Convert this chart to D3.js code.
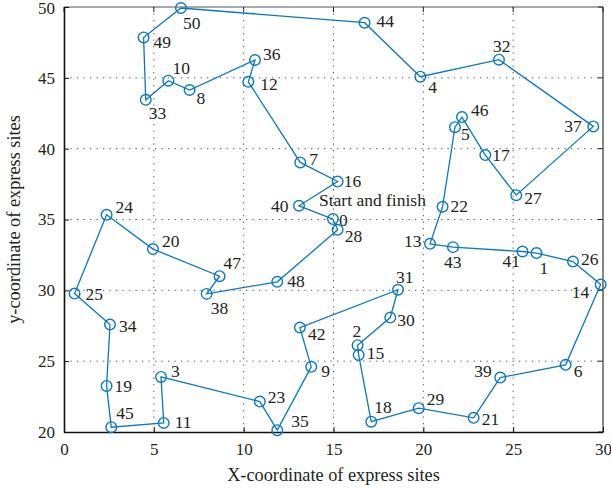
<!DOCTYPE html>
<html>
<head>
<meta charset="utf-8">
<script src="https://cdn.jsdelivr.net/npm/d3@7/dist/d3.min.js"></script>
<style>
  html, body { margin: 0; padding: 0; background: #fff; }
  svg text { font-family: "Liberation Serif", "DejaVu Serif", serif; fill: #231f20; }
</style>
</head>
<body>
<svg id="chart" width="611" height="491"></svg>
<script>
// Express site ids and their coordinates
const siteIds = d3.range(0, 51);
const siteX = [14.97, 26.3, 16.34, 5.40, 19.83, 21.76, 27.92, 13.15, 6.99, 13.76,
               5.81, 5.55, 10.26, 20.37, 29.87, 16.40, 15.23, 23.45, 17.10, 2.37,
               4.95, 22.8, 21.07, 10.9, 2.37, 0.59, 28.33, 25.17, 15.23, 19.74,
               18.16, 18.59, 24.21, 4.55, 2.56, 11.87, 10.63, 29.46, 7.94, 24.28,
               13.08, 25.52, 13.13, 21.65, 16.73, 2.63, 22.15, 8.66, 11.87, 4.43,
               6.51];
const siteY = [35.03, 32.63, 26.13, 23.89, 45.08, 41.52, 24.74, 39.03, 44.14, 24.6,
               44.8, 20.64, 44.72, 33.28, 30.41, 25.44, 37.68, 39.55, 20.73, 23.25,
               32.91, 21.0, 35.9, 22.15, 35.33, 29.77, 32.03, 36.72, 34.27, 21.68,
               28.08, 30.04, 46.28, 43.45, 27.58, 20.13, 46.26, 41.57, 29.75, 23.84,
               35.97, 32.74, 27.37, 33.05, 48.89, 20.34, 42.23, 31.0, 30.6, 47.85,
               49.93];

// Visiting order of the delivery tour (returns to site 0)
const route = [0, 40, 16, 7, 12, 36, 8, 10, 33, 49, 50, 44, 4, 32, 37, 27, 17, 46, 5, 22,
               13, 43, 41, 1, 26, 14, 6, 39, 21, 29, 18, 15, 2, 30, 31, 42, 9, 35, 23, 3,
               11, 45, 19, 34, 25, 24, 20, 47, 38, 48, 28, 0];

// Axis ticks
const xTicks = [0, 5, 10, 15, 20, 25, 30];
const yTicks = [20, 25, 30, 35, 40, 45, 50];

// Label nudges (pixels from the marker centre to the text start/baseline)
const labelNudge = [
  [6, 7], [3, 21], [-5, -8], [10, 0], [8, 16], [6, 13], [8, 12], [9, 3], [7, 14], [10, 10],
  [4, -7], [11, 5], [12, 8], [-26, 3], [-29, 13], [8, 4], [6, 5], [7, 6], [3, -9], [8, 6],
  [9, -2], [8, 7], [8, 5], [8, 1], [9, -2], [11, 6], [8, 3], [8, 9], [7, 12], [8, -3],
  [7, 8], [-2, -7], [-6, -8], [3, 19], [9, 7], [14, -3], [8, 0], [-29, 6], [4, 20], [-26, -1],
  [-28, 6], [-20, 15], [8, 12], [-9, 21], [12, 4], [5, -8], [9, -1], [4, -7], [10, 5], [10, 11],
  [2, 21]
];

const W = 611, H = 491;
const m = { left: 64, right: 8, top: 7, bottom: 59 };
const pw = W - m.left - m.right, ph = H - m.top - m.bottom;

const x = d3.scaleLinear().domain([0, 30]).range([0, pw]);
const y = d3.scaleLinear().domain([20, 50]).range([ph, 0]);

const svg = d3.select("#chart");
const g = svg.append("g").attr("transform", `translate(${m.left},${m.top})`);

// dotted grid
g.append("g").selectAll("line").data(xTicks.slice(1, -1)).join("line")
  .attr("x1", d => x(d)).attr("x2", d => x(d)).attr("y1", 0).attr("y2", ph)
  .attr("stroke", "#555").attr("stroke-width", 1).attr("stroke-dasharray", "1.3,5.2");
g.append("g").selectAll("line").data(yTicks.slice(1, -1)).join("line")
  .attr("y1", d => y(d)).attr("y2", d => y(d)).attr("x1", 0).attr("x2", pw)
  .attr("stroke", "#555").attr("stroke-width", 1).attr("stroke-dasharray", "1.3,5.2");

// frame (top/right lighter)
g.append("line").attr("x1", 0).attr("x2", pw).attr("y1", 0).attr("y2", 0)
  .attr("stroke", "#555").attr("stroke-width", 1.2);
g.append("line").attr("x1", pw).attr("x2", pw).attr("y1", 0).attr("y2", ph)
  .attr("stroke", "#555").attr("stroke-width", 1.4);

// inward ticks on top and right
g.append("g").selectAll("line").data(xTicks).join("line")
  .attr("x1", d => x(d)).attr("x2", d => x(d)).attr("y1", 0).attr("y2", 5)
  .attr("stroke", "#222");
g.append("g").selectAll("line").data(yTicks).join("line")
  .attr("y1", d => y(d)).attr("y2", d => y(d)).attr("x1", pw).attr("x2", pw - 5)
  .attr("stroke", "#222");

// bottom and left axes
const xAxis = g.append("g").attr("transform", `translate(0,${ph})`)
  .call(d3.axisBottom(x).tickValues(xTicks).tickSize(-5).tickSizeOuter(0).tickPadding(11));
const yAxis = g.append("g")
  .call(d3.axisLeft(y).tickValues(yTicks).tickSize(-5).tickSizeOuter(0).tickPadding(9));
[xAxis, yAxis].forEach(a => {
  a.select(".domain").attr("stroke", "#111").attr("stroke-width", 1.6);
  a.selectAll(".tick line").attr("stroke", "#111");
  a.selectAll(".tick text").attr("font-size", 17)
    .attr("font-family", "Liberation Serif, serif").attr("fill", "#231f20");
});
// keep the top y label inside the page
yAxis.selectAll(".tick text").filter(d => d === 50).attr("dy", "0.36em");

// tour path
const blue = "#0a79c2";
g.append("path")
  .datum(route)
  .attr("fill", "none").attr("stroke", blue).attr("stroke-width", 1.3)
  .attr("d", d3.line().x(i => x(siteX[i])).y(i => y(siteY[i])));

// site markers
g.append("g").selectAll("circle").data(siteIds).join("circle")
  .attr("cx", i => x(siteX[i])).attr("cy", i => y(siteY[i])).attr("r", 5.3)
  .attr("fill", "none").attr("stroke", blue).attr("stroke-width", 1.4);

// site labels
g.append("g").selectAll("text").data(siteIds).join("text")
  .attr("x", i => x(siteX[i]) + labelNudge[i][0])
  .attr("y", i => y(siteY[i]) + labelNudge[i][1])
  .attr("font-size", 17.5)
  .text(i => i);

// start/finish note
g.append("text")
  .attr("x", x(siteX[0]) - 14).attr("y", y(siteY[0]) - 13)
  .attr("font-size", 17.5)
  .text("Start and finish");

// axis titles
svg.append("text")
  .attr("x", m.left + pw / 2).attr("y", 481)
  .attr("text-anchor", "middle").attr("font-size", 18.3)
  .text("X-coordinate of express sites");
svg.append("text")
  .attr("transform", `translate(20,${m.top + ph / 2}) rotate(-90)`)
  .attr("text-anchor", "middle").attr("font-size", 18.3)
  .text("y-coordinate of express sites");
</script>
</body>
</html>
